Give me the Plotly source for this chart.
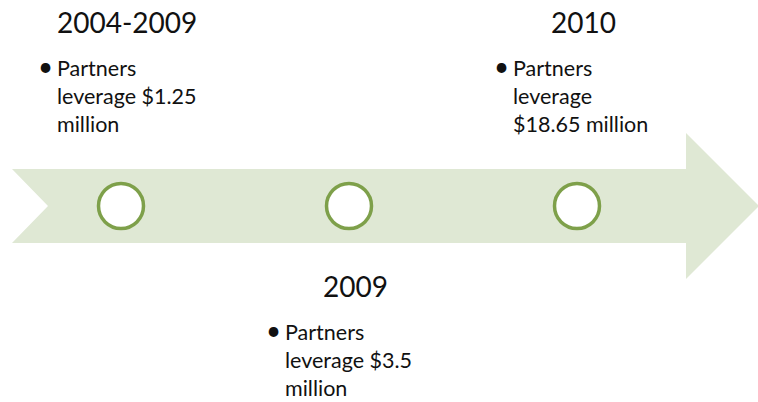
import plotly.graph_objects as go

# ---- data ----
periods = ["2004-2009", "2009", "2010"]
partners_text = ["Partners<br>leverage $1.25<br>million",
                 "Partners<br>leverage $3.5<br>million",
                 "Partners<br>leverage<br>$18.65 million"]
placement = ["above", "below", "above"]

# ---- layout constants (pixels) ----
W, H = 758, 402
CY = 206            # arrow centre line (pixel from top)
X0, STEP = 121, 228 # first milestone, spacing
BAND_H = 37
HEAD_H = 73
BAND_L, NOTCH, HEAD_X, TIP = 12, 48, 686, 759
BAND_COL = "#DFE8D4"
RING_COL = "#7EA04A"
FONT = "Lato"

def yv(p):  # pixel-from-top -> axis value
    return CY - p

xs = [X0 + STEP * i for i in range(len(periods))]

fig = go.Figure()

# arrow body
ax = [BAND_L, HEAD_X, HEAD_X, TIP, HEAD_X, HEAD_X, BAND_L, NOTCH, BAND_L]
ay = [BAND_H, BAND_H, HEAD_H, 0, -HEAD_H, -BAND_H, -BAND_H, 0, BAND_H]
fig.add_trace(go.Scatter(x=ax, y=ay, mode="lines", fill="toself",
                         fillcolor=BAND_COL, line=dict(width=0),
                         hoverinfo="skip", showlegend=False))

# milestones
fig.add_trace(go.Scatter(x=xs, y=[0] * len(xs), mode="markers",
                         marker=dict(size=45, color="white",
                                     line=dict(color=RING_COL, width=3.5)),
                         text=periods, hoverinfo="text", showlegend=False))

TITLE_DX, BULLET_DX, TEXT_DX = 6, -76, -66
for x, per, txt, pl in zip(xs, periods, partners_text, placement):
    if pl == "above":
        ty, by, bl = yv(22), yv(96), yv(66)
    else:
        ty, by, bl = yv(286), yv(360), yv(330)
    fig.add_annotation(x=x + TITLE_DX, y=ty, text=per, showarrow=False,
                       xanchor="center", yanchor="middle",
                       font=dict(family=FONT, size=28, color="#111111"))
    fig.add_annotation(x=x + BULLET_DX, y=bl, text="•", showarrow=False,
                       xanchor="center", yanchor="middle",
                       font=dict(family=FONT, size=26, color="#111111"))
    fig.add_annotation(x=x + TEXT_DX, y=by, text=txt, showarrow=False,
                       xanchor="left", yanchor="middle", align="left",
                       font=dict(family=FONT, size=21.5, color="#111111"))

fig.update_layout(width=W, height=H, margin=dict(l=0, r=0, t=0, b=0),
                  paper_bgcolor="white", plot_bgcolor="white",
                  xaxis=dict(range=[0, W], visible=False, fixedrange=True),
                  yaxis=dict(range=[CY - H, CY], visible=False, fixedrange=True))

fig.write_html("out.html", config={"displayModeBar": False},
               post_script="document.body.style.margin='0';"
                           "document.body.style.overflow='hidden';")
